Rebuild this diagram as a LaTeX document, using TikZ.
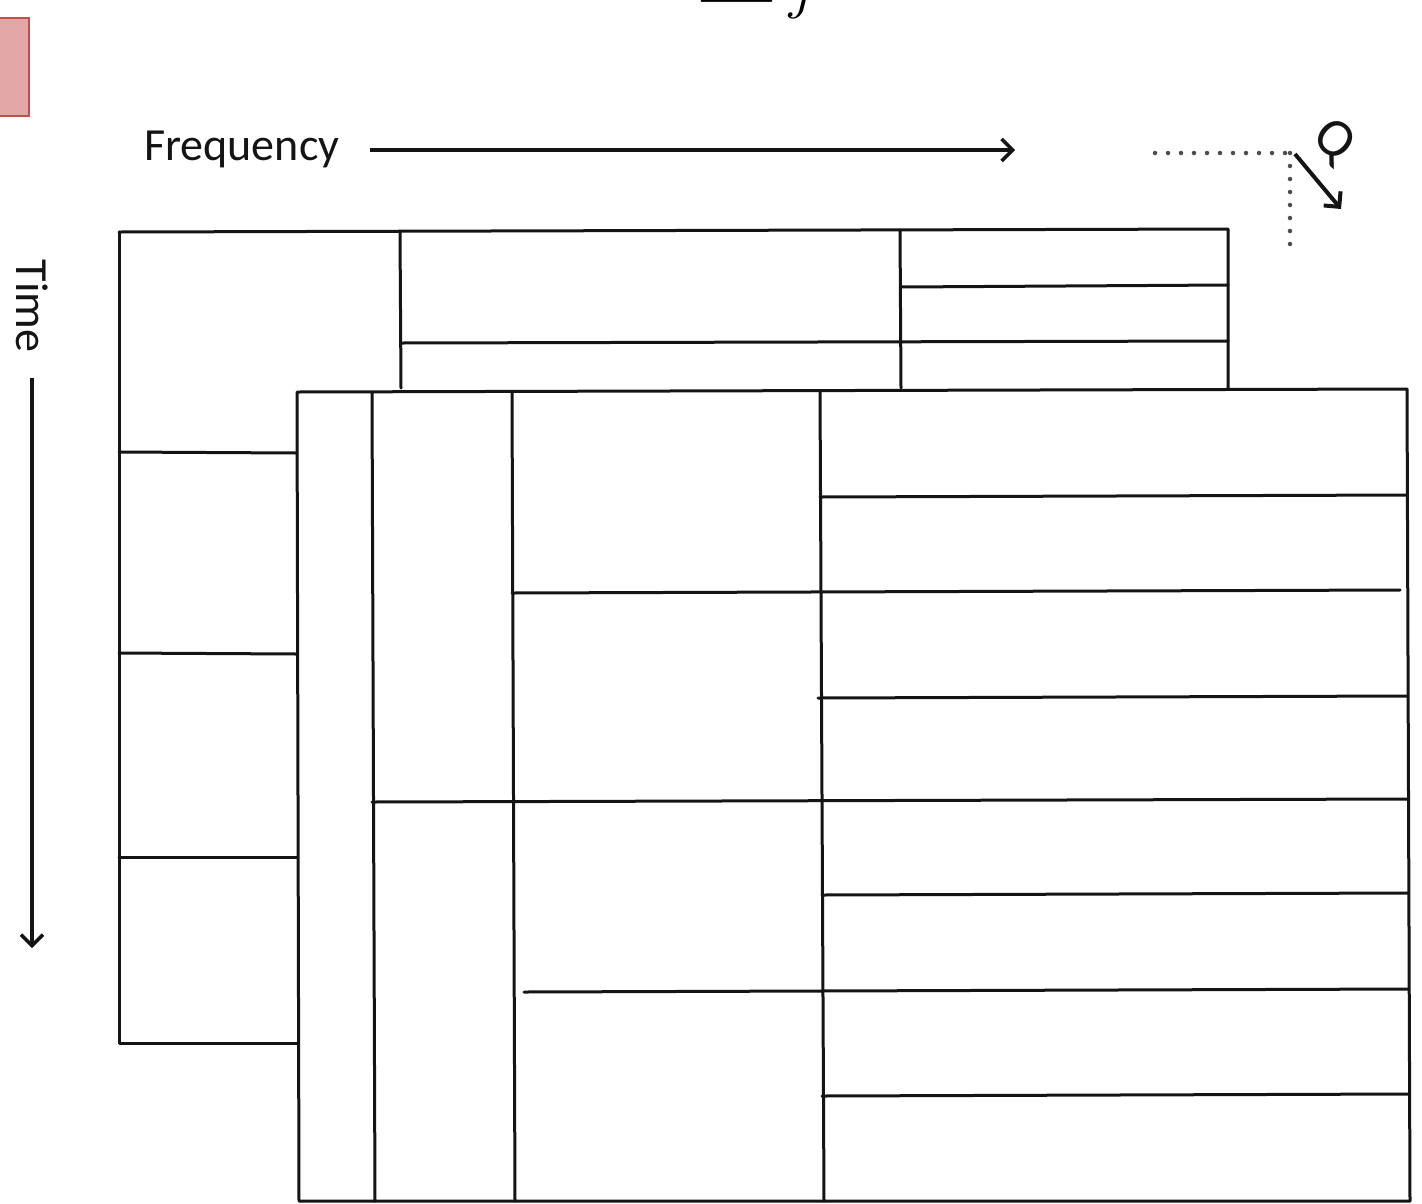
\documentclass[tikz,border=0pt]{standalone}
\usepackage{fontspec}
\setmainfont{Carlito}
\newfontfamily\lmrfont{Latin Modern Roman}
\newfontfamily\symfont{DejaVu Serif}
\usetikzlibrary{arrows.meta}
\definecolor{boxred}{HTML}{E3A7A7}
\definecolor{boxredline}{HTML}{C0504D}
\definecolor{ink}{HTML}{141414}
\begin{document}
\begin{tikzpicture}[x=1pt,y=-1pt,
  gridline/.style={draw=ink,line width=3pt,line cap=round,line join=round},
  axisarrow/.style={draw=ink,line width=3.5pt,-{Straight Barb[length=11pt,width=22pt,line width=3.5pt]}},
  dotline/.style={draw=gray!60!black,line width=4.5pt,line cap=round,dash pattern=on 0pt off 13pt},
  lbl/.style={font=\fontsize{46}{54}\selectfont,text=ink,inner sep=0pt}]
\useasboundingbox (0,0) rectangle (1422,1203);
\fill[white] (0,0) rectangle (1422,1203);
% top cut-off formula
\node[anchor=south,inner sep=0pt,font=\symfont\fontsize{114}{120}\selectfont] (sig) at (741,3) {∑};
\node[anchor=base,inner sep=0pt,font=\lmrfont\itshape\fontsize{62}{70}\selectfont] (jj) at (800,6) {j};
% red box
\draw[fill=boxred,draw=boxredline,line width=2.5pt] (-5,18) rectangle (29,116);
% frequency axis
\node[lbl,anchor=west] (freq) at (144,149) {Frequency};
\coordinate (fa) at (370,150);
\coordinate (fb) at (1015,150);
\draw[axisarrow] (fa) -- (fb);
% time axis
\node[lbl,rotate=-90] (time) at (32,306) {Time};
\coordinate (ta) at (32,378);
\coordinate (tb) at (32,948);
\draw[axisarrow] (ta) -- (tb);
% Q direction
\coordinate (qc) at (1290,153);
\coordinate (qh) at (1155,153);
\coordinate (qv) at (1290,255);
\coordinate (qa) at (1295,154);
\coordinate (qb) at (1341,209);
\draw[dotline] (qh) -- (qc);
\draw[dotline] (qc) -- (qv);
\draw[draw=ink,line width=4pt,-{Straight Barb[length=11pt,width=22pt,line width=4pt]}] (qa) -- (qb);
\node[lbl,rotate=-40,font=\fontsize{54}{60}\selectfont] (q) at (1333,141) {Q};
% back grid
\draw[gridline] (119,232) -- (1228,229) -- (1228,388);
\draw[gridline] (119,232) -- (119,1043) -- (297,1043);
\draw[gridline] (400,231) -- (401,388);
\draw[gridline] (900,230) -- (901,388);
\draw[gridline] (401,343) -- (1228,341);
\draw[gridline] (901,287) -- (1228,285);
\draw[gridline] (119,452) -- (297,453);
\draw[gridline] (119,653) -- (297,654);
\draw[gridline] (119,857) -- (297,857);
% front grid
\draw[gridline,fill=white] (297,392) -- (1407,389) -- (1410,1201) -- (299,1201) -- cycle;
\draw[gridline] (372,393) -- (375,1201);
\draw[gridline] (512,392) -- (515,1201);
\draw[gridline] (820,391) -- (824,1201);
\draw[gridline] (820,497) -- (1407,495);
\draw[gridline] (512,593) -- (1400,590);
\draw[gridline] (818,698) -- (1407,696);
\draw[gridline] (372,802) -- (1408,799);
\draw[gridline] (822,895) -- (1408,893);
\draw[gridline] (524,992) -- (1409,989);
\draw[gridline] (822,1096) -- (1409,1094);
\end{tikzpicture}
\end{document}
